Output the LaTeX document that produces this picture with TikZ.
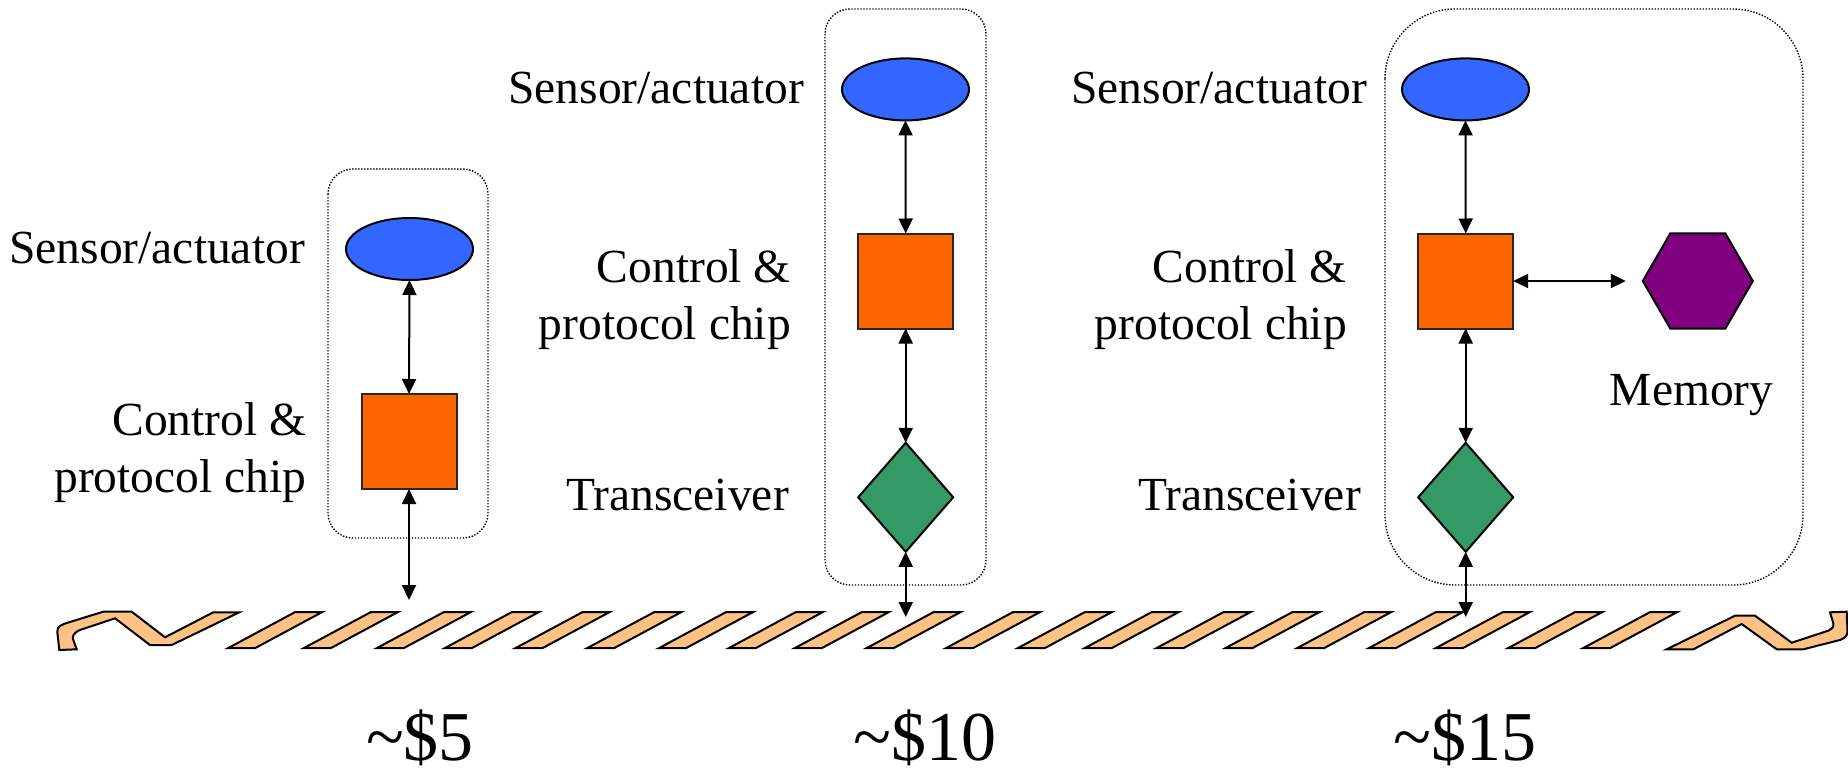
\documentclass[tikz,border=0pt]{standalone}
\usepackage{fontspec}
\setmainfont{Liberation Serif}
\usetikzlibrary{shapes.geometric,arrows.meta}

\definecolor{sensorblue}{HTML}{3366FF}
\definecolor{chiporange}{HTML}{FF6600}
\definecolor{radiogreen}{HTML}{339966}
\definecolor{mempurple}{HTML}{800080}
\definecolor{buspeach}{HTML}{FFC285}

\tikzset{
  sensor/.style={ellipse, draw=black, line width=2pt, fill=sensorblue,
    minimum width=127pt, minimum height=62pt, inner sep=0pt, outer sep=0pt},
  chip/.style={rectangle, draw=black!85, line width=2pt, fill=chiporange,
    minimum size=95pt, inner sep=0pt, outer sep=0pt},
  radio/.style={diamond, draw=black, line width=2pt, fill=radiogreen,
    minimum width=95pt, minimum height=109pt, inner sep=0pt, outer sep=0pt},
  memory/.style={regular polygon, regular polygon sides=6, draw=black,
    line width=2pt, fill=mempurple, minimum size=110pt, inner sep=0pt, outer sep=0pt},
  link/.style={line width=2pt,
    {Triangle[length=15pt,width=14pt]}-{Triangle[length=15pt,width=14pt]}},
  lbl/.style={font=\fontsize{47.5}{57}\selectfont, inner sep=0pt, anchor=base east},
  price/.style={font=\fontsize{70}{80}\selectfont, inner sep=0pt, anchor=base},
  unitbox/.style={draw=black, line width=1.4pt, dash pattern=on 1.4pt off 1.6pt},
  wire/.style={draw=black, line width=2pt, fill=buspeach, line join=miter},
}

\begin{document}
\begin{tikzpicture}[x=1pt,y=-1pt]
  \useasboundingbox[fill=white] (0,0) rectangle (1848,776);

  % dotted outlines of the three node variants
  \draw[unitbox, rounded corners=25pt] (328,169) rectangle (488,538);
  \draw[unitbox, rounded corners=25pt] (825,9) rectangle (986,585);
  \draw[unitbox, rounded corners=70pt] (1385,9) rectangle (1803,585);

  % the shared medium: hooked ends and slanted segments
  \draw[wire] (59.3,650) -- (57.3,631.7) .. controls (57,626) and (62,624.5) .. (68.3,622.5)
    -- (103.3,611.7) -- (131.7,611.7) -- (165,637.3) -- (213.3,612.3) -- (239.3,612.3)
    -- (171.7,645) -- (150,645) -- (115,618.3) -- (80,630)
    .. controls (73,633) and (72,637) .. (73.3,640) -- (76.7,649.3) -- cycle;
  \foreach \s in {228.3,304,377,445,515.7,587.4,659.2,729,795,866.8,946.2,1018,
                  1084.9,1156.7,1225.6,1297.3,1369,1436,1508.3,1583.3}
    \draw[wire] (\s,648) -- (\s+27,648) -- (\s+94,612) -- (\s+67,612) -- cycle;
  \draw[wire] (1666.7,649.3) -- (1735,615.7) -- (1755,615.7) -- (1791.7,642.7)
    -- (1828.3,630.7) .. controls (1834,628) and (1834,625) .. (1833.3,623.3)
    -- (1830,612.3) -- (1846.7,611.7) -- (1847.5,631.7)
    .. controls (1847.5,636) and (1844,638.5) .. (1840,640)
    -- (1803.3,649.3) -- (1776.7,649.3) -- (1741.7,624) -- (1693.3,649.3) -- cycle;

  % ~$5 node
  \node[sensor] (senA) at (409.5,249) {};
  \node[chip] (chipA) at (409,441.5) {};
  \coordinate (tapA) at (409,600);

  % ~$10 node
  \node[sensor] (senB) at (905.5,89.4) {};
  \node[chip] (chipB) at (905.7,281) {};
  \node[radio] (radB) at (905.7,497.3) {};
  \coordinate (tapB) at (905.7,617);

  % ~$15 node
  \node[sensor] (senC) at (1465.5,89.4) {};
  \node[chip] (chipC) at (1465.7,281) {};
  \node[radio] (radC) at (1465.7,497.3) {};
  \node[memory] (memC) at (1697.8,281) {};
  \coordinate (tapC) at (1465.7,617);

  % connectors
  \draw[link] (senA.south) -- (chipA.north);
  \draw[link] (chipA.south) -- (tapA);
  \draw[link] (senB.south) -- (chipB.north);
  \draw[link] (chipB.south) -- (radB.north);
  \draw[link] (radB.south) -- (tapB);
  \draw[link] (senC.south) -- (chipC.north);
  \draw[link] (chipC.south) -- (radC.north);
  \draw[link] (radC.south) -- (tapC);
  \draw[link, shorten >=17pt] (chipC.east) -- (memC.west);

  % labels
  \node[lbl] (tSenA) at (305,263.3) {Sensor/actuator};
  \node[lbl] (tChipA) at (306.5,435)
    {\begin{tabular}[t]{@{}r@{}}Control \&\\ protocol chip\end{tabular}};

  \node[lbl] (tSenB) at (804,103.3) {Sensor/actuator};
  \node[lbl] (tChipB) at (791,282)
    {\begin{tabular}[t]{@{}r@{}}Control \&\\ protocol chip\end{tabular}};
  \node[lbl] (tRadB) at (789,510) {Transceiver};

  \node[lbl] (tSenC) at (1367,103.3) {Sensor/actuator};
  \node[lbl] (tChipC) at (1347,282)
    {\begin{tabular}[t]{@{}r@{}}Control \&\\ protocol chip\end{tabular}};
  \node[lbl] (tRadC) at (1361,510) {Transceiver};
  \node[lbl, anchor=base] (tMemC) at (1691.7,405) {Memory};

  % prices
  \node[price] (pA) at (420,760) {\textasciitilde\$5};
  \node[price] (pB) at (925,760) {\textasciitilde\$10};
  \node[price] (pC) at (1465,760) {\textasciitilde\$15};
\end{tikzpicture}
\end{document}
